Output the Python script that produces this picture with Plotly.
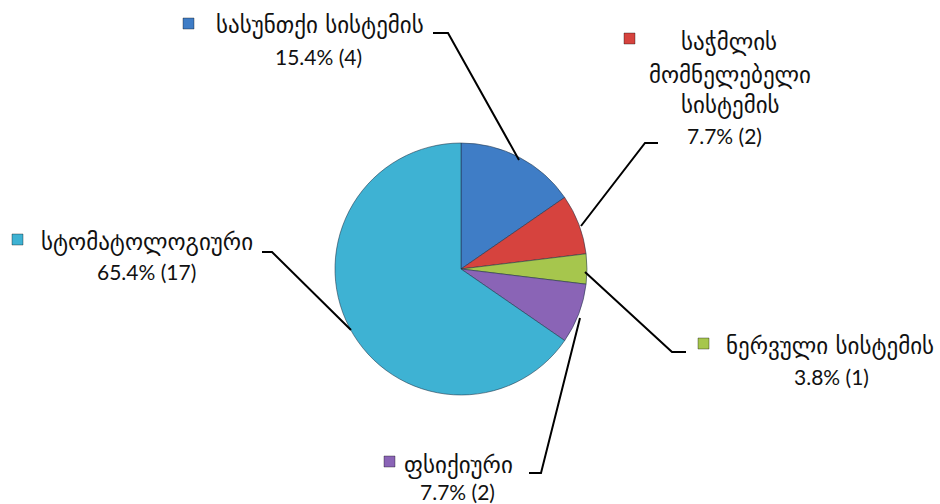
import plotly.graph_objects as go

# Diagnosis groups and counts
categories = ["სასუნთქი სისტემის", "საჭმლის მომნელებელი სისტემის", "ნერვული სისტემის",
              "ფსიქიური", "სტომატოლოგიური"]
counts = [4, 2, 1, 2, 17]
colors = ["#3F7DC6", "#D6433E", "#A6C64D", "#8A64B6", "#3EB2D3"]

total = sum(counts)
percents = [c / total * 100 for c in counts]

W, H = 940, 504
cx, cy, r = 461, 269, 126

fig = go.Figure()
fig.add_trace(go.Pie(
    labels=categories, values=counts, sort=False, direction="clockwise", rotation=0,
    marker=dict(colors=colors, line=dict(color="rgba(30,50,70,0.55)", width=1)),
    textinfo="none", hoverinfo="label+value+percent", showlegend=False,
    domain=dict(x=[(cx - r) / W, (cx + r) / W], y=[(H - cy - r) / H, (H - cy + r) / H]),
))

geo = "DejaVu Sans, Sylfaen"
num = "Lato, Open Sans, sans-serif"

# label layout per slice: name lines (x, y), marker box, value line, leader polyline
layout_info = [
    dict(name=[(320, 25)], box=(183, 18), val=(318, 56),
         lead=[(433, 33), (448, 33), (519, 160)]),
    dict(name=[(729, 42), (730, 75), (730, 105)], box=(624, 33), val=(724, 135),
         lead=[(658, 143), (645, 143), (581, 226)]),
    dict(name=[(830, 346)], box=(698, 338), val=(831, 376),
         lead=[(585, 272), (672, 352), (686, 352)]),
    dict(name=[(458, 465)], box=(384, 456), val=(457, 491),
         lead=[(580, 318), (541, 473), (529, 473)]),
    dict(name=[(147, 242)], box=(12, 234), val=(146, 271),
         lead=[(262, 252), (272, 252), (351, 330)]),
]
name_lines = [["სასუნთქი სისტემის"], ["საჭმლის", "მომნელებელი", "სისტემის"],
              ["ნერვული სისტემის"], ["ფსიქიური"], ["სტომატოლოგიური"]]

shapes, annotations = [], []
for i, info in enumerate(layout_info):
    for (x, y), t in zip(info["name"], name_lines[i]):
        annotations.append(dict(x=x, y=y, xref="x", yref="y", text=t, showarrow=False,
                                xanchor="center", yanchor="middle",
                                font=dict(family=geo, size=23, color="#111")))
    vx, vy = info["val"]
    annotations.append(dict(x=vx, y=vy, xref="x", yref="y",
                            text=f"{percents[i]:.1f}% ({counts[i]})", showarrow=False,
                            xanchor="center", yanchor="middle",
                            font=dict(family=num, size=21, color="#111")))
    bx, by = info["box"]
    shapes.append(dict(type="rect", xref="x", yref="y", x0=bx, y0=by, x1=bx + 11, y1=by + 11,
                       fillcolor=colors[i], line=dict(color="rgba(0,0,0,0.35)", width=1)))
    pts = info["lead"]
    path = "M " + " L ".join(f"{px},{py}" for px, py in pts)
    shapes.append(dict(type="path", xref="x", yref="y", path=path,
                       line=dict(color="#000", width=2)))

fig.update_layout(
    width=W, height=H, margin=dict(l=0, r=0, t=0, b=0),
    paper_bgcolor="white", plot_bgcolor="rgba(0,0,0,0)",
    xaxis=dict(range=[0, W], visible=False, fixedrange=True),
    yaxis=dict(range=[H, 0], visible=False, fixedrange=True),
    shapes=shapes, annotations=annotations,
)
fig.write_html("out.html")
